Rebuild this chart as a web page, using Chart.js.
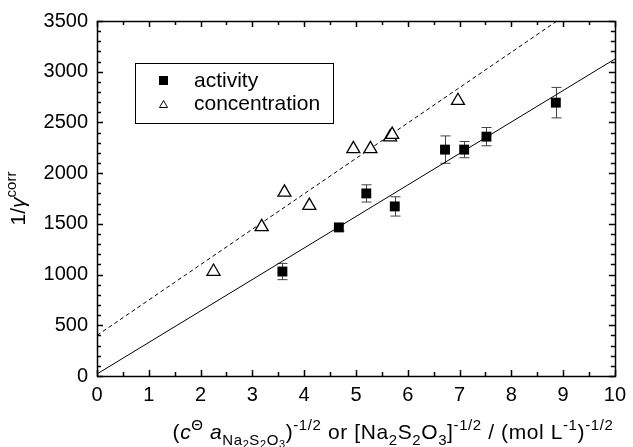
<!DOCTYPE html>
<html>
<head>
<meta charset="utf-8">
<script src="https://cdn.jsdelivr.net/npm/chart.js@4.4.1/dist/chart.umd.min.js"></script>
<style>
  html, body { margin: 0; padding: 0; background: #fff; }
</style>
</head>
<body>
<canvas id="chart" width="633" height="447"></canvas>
<script>
// activity data (filled squares) with error bars
const activityX = [3.58, 4.67, 5.20, 5.75, 6.72, 7.09, 7.52, 8.86];
const activityY = [1030, 1465, 1800, 1672, 2232, 2232, 2360, 2695];
const activityErr = [80, 35, 85, 95, 135, 80, 90, 150];

// concentration data (open triangles)
const concX = [2.25, 3.18, 3.62, 4.10, 4.95, 5.28, 5.66, 5.70, 6.97];
const concY = [1030, 1470, 1810, 1680, 2240, 2240, 2355, 2380, 2714];

// linear fits, given as end points
const fitActivityX = [0, 10];
const fitActivityY = [20, 3125];
const fitConcX = [0, 10];
const fitConcY = [400, 3890];

const xTicks = [0, 1, 2, 3, 4, 5, 6, 7, 8, 9, 10];
const yTicks = [0, 500, 1000, 1500, 2000, 2500, 3000, 3500];

const FONT = '"Liberation Sans", Arial, Helvetica, sans-serif';

function toPoints(xs, ys) {
    return xs.map((x, i) => ({ x: x, y: ys[i] }));
}

// draws a line of text with italics, superscripts and subscripts
function drawRich(ctx, segs, cx, cy, base) {
    const sizes = { 0: base, 1: Math.round(base * 0.7), '-1': Math.round(base * 0.7), '-2': Math.round(base * 0.52) };
    const shift = { 0: 0, 1: -Math.round(base * 0.42), '-1': Math.round(base * 0.28), '-2': Math.round(base * 0.42) };
    const fontOf = s => (s.it ? 'italic ' : '') + sizes[s.lvl || 0] + 'px ' + FONT;
    let w = 0;
    segs.forEach(s => { ctx.font = fontOf(s); w += ctx.measureText(s.t).width; });
    let x = cx - w / 2;
    ctx.textAlign = 'left';
    ctx.textBaseline = 'alphabetic';
    segs.forEach(s => {
        ctx.font = fontOf(s);
        ctx.fillText(s.t, x, cy + shift[s.lvl || 0]);
        x += ctx.measureText(s.t).width;
    });
}

const xTitle = [
    { t: '(' }, { t: 'c', it: true }, { t: 'Θ', lvl: 1 }, { t: ' ' }, { t: 'a', it: true },
    { t: 'Na', lvl: -1 }, { t: '2', lvl: -2 }, { t: 'S', lvl: -1 }, { t: '2', lvl: -2 },
    { t: 'O', lvl: -1 }, { t: '3', lvl: -2 }, { t: ')' }, { t: '-1/2', lvl: 1 },
    { t: ' or [Na' }, { t: '2', lvl: -1 }, { t: 'S' }, { t: '2', lvl: -1 }, { t: 'O' }, { t: '3', lvl: -1 },
    { t: ']' }, { t: '-1/2', lvl: 1 }, { t: ' / (mol L' }, { t: '-1', lvl: 1 }, { t: ')' }, { t: '-1/2', lvl: 1 }
];
const yTitle = [
    { t: '1/' }, { t: 'γ', it: true }, { t: 'corr', lvl: 1 }
];

const decor = {
    id: 'decor',
    beforeDatasetsDraw(chart) {
        const ctx = chart.ctx;
        const xs = chart.scales.x, ys = chart.scales.y;
        ctx.save();
        ctx.strokeStyle = '#444';
        ctx.lineWidth = 1;
        activityX.forEach((v, i) => {
            const px = Math.round(xs.getPixelForValue(v)) + 0.5;
            const t = ys.getPixelForValue(activityY[i] + activityErr[i]);
            const b = ys.getPixelForValue(activityY[i] - activityErr[i]);
            ctx.beginPath();
            ctx.moveTo(px, t); ctx.lineTo(px, b);
            ctx.moveTo(px - 5, t); ctx.lineTo(px + 5, t);
            ctx.moveTo(px - 5, b); ctx.lineTo(px + 5, b);
            ctx.stroke();
        });
        ctx.restore();
    },
    afterDraw(chart) {
        const ctx = chart.ctx;
        const a = chart.chartArea;
        const xs = chart.scales.x, ys = chart.scales.y;
        ctx.save();
        ctx.strokeStyle = '#000';
        ctx.lineWidth = 1.5;
        ctx.strokeRect(Math.round(a.left) + 0.5, Math.round(a.top) + 0.5,
            Math.round(a.right - a.left), Math.round(a.bottom - a.top));

        // inward ticks on all four sides
        ctx.lineWidth = 1.5;
        ctx.beginPath();
        for (let v = 0; v <= 10.001; v += 0.5) {
            const px = Math.round(xs.getPixelForValue(v)) + 0.5;
            const len = Math.abs(v - Math.round(v)) < 0.01 ? 6 : 4;
            ctx.moveTo(px, a.bottom); ctx.lineTo(px, a.bottom - len);
            ctx.moveTo(px, a.top); ctx.lineTo(px, a.top + len);
        }
        for (let v = 0; v <= 3500; v += 100) {
            const py = Math.round(ys.getPixelForValue(v)) + 0.5;
            const len = v % 500 === 0 ? 6 : 4;
            ctx.moveTo(a.left, py); ctx.lineTo(a.left + len, py);
            ctx.moveTo(a.right, py); ctx.lineTo(a.right - len, py);
        }
        ctx.stroke();

        // legend
        ctx.lineWidth = 1;
        ctx.fillStyle = '#fff';
        ctx.fillRect(135.5, 63.5, 198, 60);
        ctx.strokeRect(135.5, 63.5, 198, 60);
        ctx.fillStyle = '#000';
        ctx.fillRect(159, 76, 9, 9);
        ctx.beginPath();
        ctx.moveTo(163.5, 100.5); ctx.lineTo(167.5, 107.5); ctx.lineTo(159.5, 107.5); ctx.closePath();
        ctx.stroke();
        ctx.font = '21px ' + FONT;
        ctx.textAlign = 'left';
        ctx.textBaseline = 'middle';
        ctx.fillText('activity', 194, 81);
        ctx.fillText('concentration', 194, 104);

        // axis titles
        ctx.letterSpacing = '0.6px';
        drawRich(ctx, xTitle, 393, 439, 21);
        ctx.letterSpacing = '0px';
        ctx.save();
        ctx.translate(25, (a.top + a.bottom) / 2);
        ctx.rotate(-Math.PI / 2);
        drawRich(ctx, yTitle, 0, 0, 21);
        ctx.restore();
        ctx.restore();
    }
};

new Chart(document.getElementById('chart'), {
    type: 'scatter',
    data: {
        datasets: [
            {
                label: 'activity',
                data: toPoints(activityX, activityY),
                pointStyle: 'rect',
                pointRadius: 7,
                backgroundColor: '#000',
                borderColor: '#000',
                borderWidth: 0
            },
            {
                label: 'concentration',
                data: toPoints(concX, concY),
                pointStyle: 'triangle',
                pointRadius: 7.5,
                backgroundColor: '#fff',
                borderColor: '#000',
                borderWidth: 1.3
            },
            {
                label: 'fit activity',
                data: toPoints(fitActivityX, fitActivityY),
                showLine: true,
                pointRadius: 0,
                borderColor: '#000',
                borderWidth: 1
            },
            {
                label: 'fit concentration',
                data: toPoints(fitConcX, fitConcY),
                showLine: true,
                pointRadius: 0,
                borderColor: '#000',
                borderWidth: 1,
                borderDash: [4, 3]
            }
        ]
    },
    options: {
        responsive: false,
        animation: false,
        layout: { padding: { left: 0, top: 21, right: 11, bottom: 0 } },
        plugins: {
            legend: { display: false },
            tooltip: { enabled: false }
        },
        scales: {
            x: {
                type: 'linear',
                min: 0,
                max: 10,
                afterFit: s => { s.height = 71; },
                afterBuildTicks: s => { s.ticks = xTicks.map(v => ({ value: v })); },
                grid: { display: false, drawTicks: false },
                border: { display: false },
                ticks: { color: '#000', padding: 7, font: { family: FONT, size: 20 }, callback: v => String(v) }
            },
            y: {
                type: 'linear',
                min: 0,
                max: 3500,
                afterFit: s => { s.width = 97; },
                afterBuildTicks: s => { s.ticks = yTicks.map(v => ({ value: v })); },
                grid: { display: false, drawTicks: false },
                border: { display: false },
                ticks: { color: '#000', padding: 9, font: { family: FONT, size: 20 }, callback: v => String(v) }
            }
        }
    },
    plugins: [decor]
});
</script>
</body>
</html>
